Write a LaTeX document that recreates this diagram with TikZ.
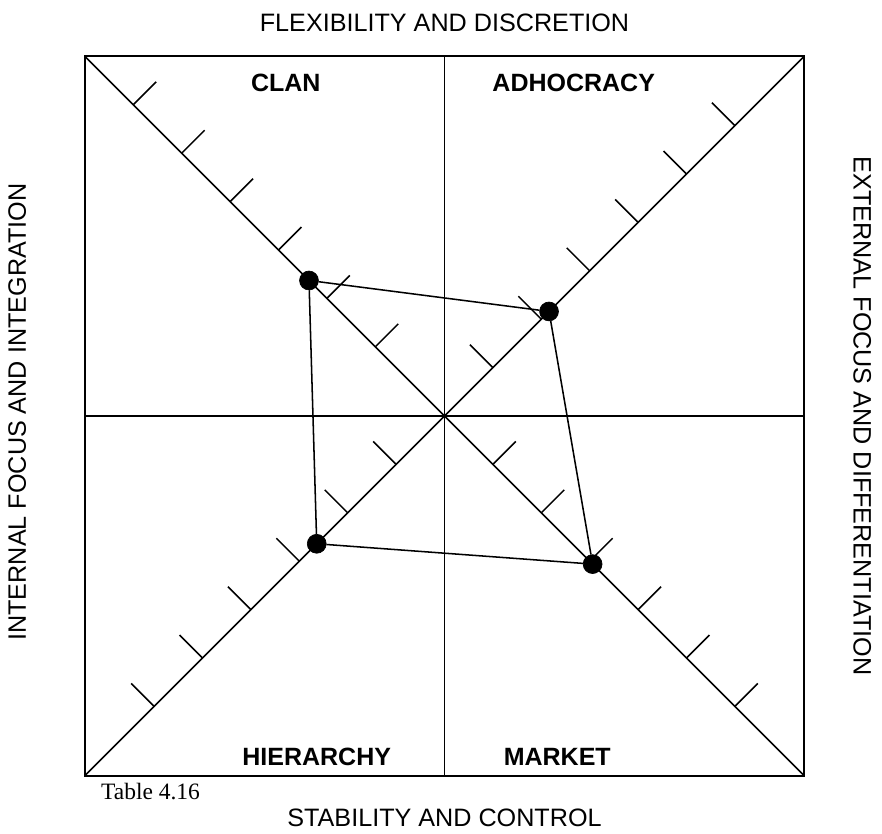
\documentclass[tikz,border=0pt]{standalone}
\usepackage{fontspec}
\setmainfont{Liberation Serif}
\setsansfont{Liberation Sans}

\newcommand*{\half}{7.43}
\newcommand*{\ticklen}{0.475}

\begin{document}
\begin{tikzpicture}
[
	frame/.style={line width=1.2pt},
	axis/.style={line width=0.9pt},
	dot/.style={circle,draw,fill,inner sep=0pt,minimum size=0.39cm},
	quad/.style={font=\sffamily\bfseries\fontsize{14.7}{17}\selectfont},
	side/.style={font=\sffamily\fontsize{14.8}{17}\selectfont}
]
	\useasboundingbox (-9.184,-8.636) rectangle (9.039,8.595);

	% frame and axes
	\coordinate (tl) at (-\half,\half);
	\coordinate (tr) at (\half,\half);
	\coordinate (bl) at (-\half,-\half);
	\coordinate (br) at (\half,-\half);
	\coordinate (top) at (0,\half);
	\coordinate (bot) at (0,-\half);
	\coordinate (lft) at (-\half,0);
	\coordinate (rgt) at (\half,0);

	\draw[frame] (tl) rectangle (br);
	\draw[axis] (top) -- (bot);
	\draw[axis] (lft) -- (rgt);
	\draw[axis] (tl) -- (br);
	\draw[axis] (bl) -- (tr);

	% ticks
	\foreach \k in {1,...,6} {
		\draw[axis] (-\half+\k,\half-\k) -- ++(\ticklen,\ticklen);
		\draw[axis] (\k,-\k) -- ++(\ticklen,\ticklen);
		\draw[axis] (\k,\k) -- ++(-\ticklen,\ticklen);
		\draw[axis] (-\k,-\k) -- ++(-\ticklen,\ticklen);
	}

	% profile
	\node[dot] (clanpt) at (-2.80,2.80) {};
	\node[dot] (adhocpt) at (2.16,2.16) {};
	\node[dot] (marketpt) at (3.06,-3.06) {};
	\node[dot] (hierpt) at (-2.64,-2.64) {};
	\draw[axis] (clanpt) -- (adhocpt) -- (marketpt) -- (hierpt) -- (clanpt);

	% quadrant names
	\node[quad] (clan) at (-3.28,6.89) {CLAN};
	\node[quad] (adhoc) at (2.67,6.89) {ADHOCRACY};
	\node[quad] (hier) at (-2.64,-7.05) {HIERARCHY};
	\node[quad] (market) at (2.33,-7.05) {MARKET};

	% dimensions
	\node[side] (flex) at (0,8.12) {FLEXIBILITY AND DISCRETION};
	\node[side] (stab) at (0,-8.31) {STABILITY AND CONTROL};
	\node[side,rotate=90] (intern) at (-8.83,0.08) {INTERNAL FOCUS AND INTEGRATION};
	\node[side,rotate=-90] (extern) at (8.63,0) {EXTERNAL FOCUS AND DIFFERENTIATION};

	\node[anchor=west,inner sep=0pt,font=\fontsize{13.8}{15}\selectfont] (caption) at (-7.1,-7.76) {Table 4.16};

\end{tikzpicture}
\end{document}
